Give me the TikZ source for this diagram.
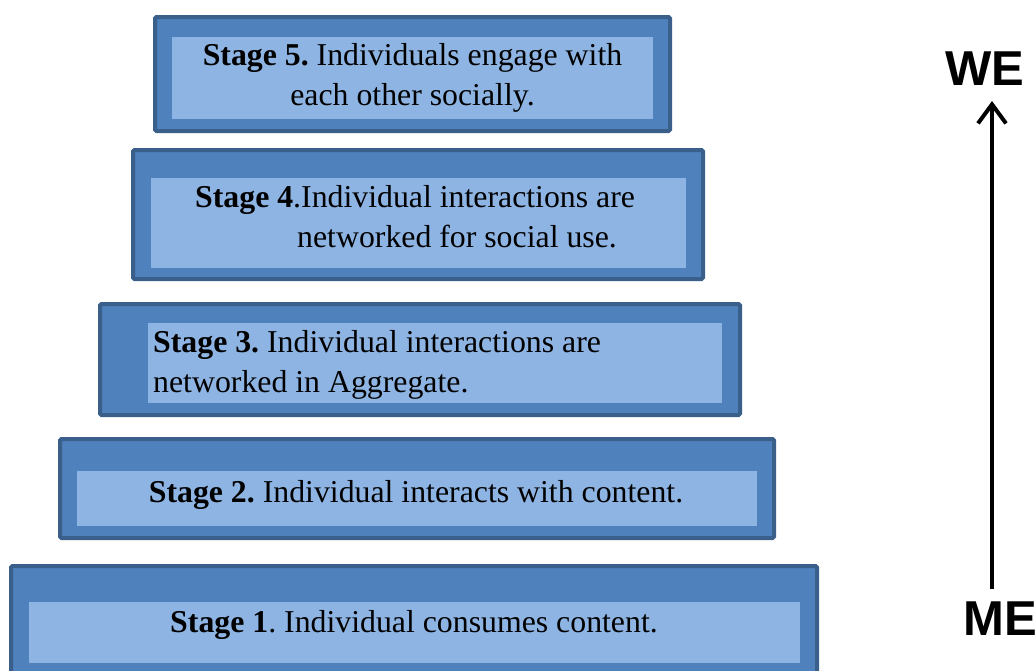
\documentclass[tikz,border=0pt]{standalone}
\usepackage{fontspec}
\setmainfont{Liberation Serif}
\newfontfamily\arialfont{Liberation Sans}
\usetikzlibrary{arrows.meta}
\definecolor{outerfill}{HTML}{4F81BD}
\definecolor{outerline}{HTML}{3A5F8B}
\definecolor{innerfill}{HTML}{8EB4E3}
\frenchspacing
\tikzset{
  outerbox/.style={fill=outerfill, draw=outerline, line width=4pt, rounded corners=1.5pt},
  innerbox/.style={fill=innerfill, draw=none},
  stagetext/.style={font=\fontsize{31.8}{40}\selectfont, inner sep=0pt, text=black},
  bigword/.style={font=\arialfont\bfseries\fontsize{49}{50}\selectfont, inner sep=0pt},
}
\begin{document}
\begin{tikzpicture}[x=1pt,y=-1pt]
\useasboundingbox (0,0) rectangle (1036,670);
% Stage 5
\draw[outerbox] (155,17) rectangle (670,131);
\fill[innerbox] (172,37) rectangle (653,119);
\node[stagetext, align=center] (s5) at (412.5,78) {\textbf{Stage 5.} Individuals engage with\\each other socially.};
% Stage 4
\draw[outerbox] (133,150) rectangle (703,279);
\fill[innerbox] (151,178) rectangle (686,268);
\node[stagetext, align=left, anchor=north west] (s4) at (195,185) {\textbf{Stage 4}.Individual interactions are\\\hspace*{102pt}networked for social use.};
% Stage 3
\draw[outerbox] (100,304) rectangle (740,415);
\fill[innerbox] (148,323) rectangle (722,403);
\node[stagetext, align=left, anchor=north west] (s3) at (153,330) {\textbf{Stage 3.} Individual interactions are\\networked in Aggregate.};
% Stage 2
\draw[outerbox] (60,439) rectangle (774,538);
\fill[innerbox] (77,471) rectangle (757,526);
\node[stagetext] (s2) at (416,495) {\textbf{Stage 2.} Individual interacts with content.};
% Stage 1
\draw[outerbox] (11,566) rectangle (817,680);
\fill[innerbox] (29,602) rectangle (800,663);
\node[stagetext] (s1) at (414,625) {\textbf{Stage 1}. Individual consumes content.};
% WE / ME
\node[bigword] (we) at (985,69) {WE};
\node[bigword] (me) at (1000,619) {ME};
\coordinate (arrS) at (992,589);
\coordinate (arrE) at (992,101);
\draw[line width=4pt, -{Straight Barb[length=19pt,width=28pt,line width=4pt]}] (arrS) -- (arrE);
\end{tikzpicture}
\end{document}
